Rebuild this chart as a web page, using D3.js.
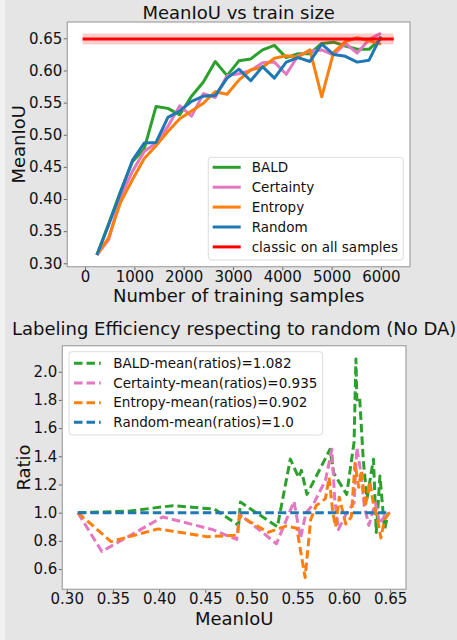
<!DOCTYPE html>
<html>
<head>
<meta charset="utf-8">
<script src="https://cdn.jsdelivr.net/npm/d3@7"></script>
<style>
  body { margin: 0; background: #e5e5e5; }
  svg { display: block; font-family: "DejaVu Sans", sans-serif; }
</style>
</head>
<body>
<div id="container"></div>
<script>
// --- data ---

// top chart: MeanIoU vs number of training samples
const trainSizes = [240, 480, 720, 960, 1200, 1440, 1680, 1920, 2160, 2400, 2640, 2880, 3120,
                    3360, 3600, 3840, 4080, 4320, 4560, 4800, 5040, 5280, 5520, 5760, 6000];
const iouBald = [0.313, 0.362, 0.412, 0.458, 0.478, 0.544, 0.541, 0.531, 0.560, 0.582, 0.614, 0.592, 0.615,
                 0.618, 0.632, 0.639, 0.620, 0.626, 0.626, 0.642, 0.644, 0.638, 0.633, 0.633, 0.649];
const iouCertainty = [0.313, 0.337, 0.403, 0.443, 0.474, 0.487, 0.513, 0.545, 0.529, 0.564, 0.558, 0.592, 0.595,
                      0.600, 0.612, 0.613, 0.594, 0.623, 0.630, 0.632, 0.624, 0.642, 0.627, 0.648, 0.658];
const iouEntropy = [0.313, 0.340, 0.395, 0.430, 0.463, 0.483, 0.505, 0.525, 0.537, 0.549, 0.567, 0.563, 0.585,
                    0.601, 0.605, 0.619, 0.623, 0.621, 0.632, 0.559, 0.628, 0.645, 0.651, 0.646, 0.641];
const iouRandom = [0.313, 0.360, 0.410, 0.460, 0.487, 0.488, 0.527, 0.537, 0.552, 0.560, 0.561, 0.588, 0.602,
                   0.584, 0.606, 0.588, 0.613, 0.620, 0.614, 0.641, 0.625, 0.622, 0.613, 0.616, 0.653];
const classicIoU = 0.649;
const classicStd = 0.0085;
const classicSpan = [-50, 6260];

const topLabels = ["BALD", "Certainty", "Entropy", "Random", "classic on all samples"];
const topXTicks = [0, 1000, 2000, 3000, 4000, 5000, 6000];
const topYTicks = [0.30, 0.35, 0.40, 0.45, 0.50, 0.55, 0.60, 0.65];

// bottom chart: labeling efficiency ratio vs MeanIoU
const effBaldX = [0.312, 0.365, 0.415, 0.460, 0.486, 0.488, 0.528, 0.542, 0.551, 0.554, 0.560, 0.578, 0.585,
                  0.589, 0.603, 0.611, 0.613, 0.614, 0.617, 0.621, 0.625, 0.632, 0.635, 0.639, 0.644, 0.648];
const effBaldY = [1.00, 1.01, 1.05, 1.025, 0.91, 1.075, 0.90, 1.38, 1.25, 1.30, 1.13, 1.36, 1.45,
                  1.28, 1.13, 1.50, 2.09, 1.80, 1.82, 1.37, 1.10, 1.38, 0.86, 1.26, 0.88, 1.00];
const effCertaintyX = [0.312, 0.338, 0.404, 0.458, 0.484, 0.487, 0.527, 0.546, 0.553, 0.559, 0.567, 0.580, 0.587,
                       0.590, 0.594, 0.603, 0.611, 0.614, 0.618, 0.622, 0.627, 0.634, 0.639, 0.644, 0.650];
const effCertaintyY = [1.00, 0.725, 0.97, 0.88, 0.81, 0.99, 0.78, 1.08, 0.82, 1.00, 1.06, 1.23, 1.45,
                       1.10, 0.88, 1.00, 1.07, 1.46, 1.30, 1.05, 0.91, 1.07, 0.92, 0.98, 1.00];
const effEntropyX = [0.312, 0.348, 0.399, 0.452, 0.485, 0.487, 0.518, 0.537, 0.549, 0.558, 0.564, 0.570, 0.580, 0.584,
                     0.588, 0.591, 0.595, 0.602, 0.608, 0.612, 0.616, 0.619, 0.623, 0.628, 0.632, 0.636, 0.640, 0.644, 0.649];
const effEntropyY = [1.00, 0.795, 0.885, 0.83, 0.84, 0.98, 0.86, 0.905, 0.89, 0.54, 0.95, 1.05, 1.10, 1.25,
                     1.00, 0.90, 1.11, 0.92, 0.97, 1.35, 1.18, 1.30, 1.04, 1.22, 1.06, 0.97, 0.82, 0.95, 1.00];
const effRandomX = [0.312, 0.650];
const effRandomY = [1.0, 1.0];

const bottomLabels = ["BALD-mean(ratios)=1.082", "Certainty-mean(ratios)=0.935",
                      "Entropy-mean(ratios)=0.902", "Random-mean(ratios)=1.0"];
const bottomXTicks = [0.30, 0.35, 0.40, 0.45, 0.50, 0.55, 0.60, 0.65];
const bottomYTicks = [0.6, 0.8, 1.0, 1.2, 1.4, 1.6, 1.8, 2.0];

const colors = ["#2ca02c", "#e377c2", "#ff7f0e", "#1f77b4", "#ff0000"];

// --- layout ---
const width = 457, height = 640;
const svg = d3.select("#container").append("svg")
    .attr("width", width)
    .attr("height", height);

svg.append("rect").attr("width", width).attr("height", height).attr("fill", "#e5e5e5");
svg.append("rect").attr("width", 5).attr("height", height).attr("fill", "#f2f2f2");

function drawFrame(box, x, y, xTicks, yTicks, xFmt, yFmt) {
    svg.append("rect")
        .attr("x", box.left).attr("y", box.top)
        .attr("width", box.right - box.left).attr("height", box.bottom - box.top)
        .attr("fill", "#fff");

    const gx = svg.append("g")
        .attr("transform", `translate(0,${box.bottom})`)
        .call(d3.axisBottom(x).tickValues(xTicks).tickFormat(xFmt).tickSize(3.5).tickPadding(0.8));
    const gy = svg.append("g")
        .attr("transform", `translate(${box.left},0)`)
        .call(d3.axisLeft(y).tickValues(yTicks).tickFormat(yFmt).tickSize(3.5).tickPadding(1.5));
    [gx, gy].forEach(g => {
        g.select(".domain").remove();
        g.selectAll(".tick line").attr("stroke", "#666");
        g.selectAll(".tick text")
            .attr("fill", "#111")
            .style("font-size", "15px")
            .style("font-family", "DejaVu Sans");
    });
}

function drawSpines(box) {
    svg.append("rect")
        .attr("x", box.left).attr("y", box.top)
        .attr("width", box.right - box.left).attr("height", box.bottom - box.top)
        .attr("fill", "none")
        .attr("stroke", "#a8a8a8")
        .attr("stroke-width", 1.3);
}

function drawLegend(lx, ly, lw, lh, firstY, step, handleX, textX, labels, dashed) {
    const g = svg.append("g");
    g.append("rect")
        .attr("x", lx).attr("y", ly).attr("width", lw).attr("height", lh)
        .attr("rx", 3)
        .attr("fill", "#fff").attr("fill-opacity", 0.85)
        .attr("stroke", "#dcdcdc");
    labels.forEach((lab, i) => {
        const yy = firstY + i * step;
        g.append("line")
            .attr("x1", handleX[0]).attr("x2", handleX[1])
            .attr("y1", yy).attr("y2", yy)
            .attr("stroke", colors[i])
            .attr("stroke-width", 3)
            .attr("stroke-dasharray", dashed ? "8.5,4" : null);
        g.append("text")
            .attr("x", textX).attr("y", yy + 4.8)
            .style("font-size", "13.5px")
            .attr("fill", "#111")
            .text(lab);
    });
}

// ---------- top chart ----------
const topBox = { left: 67.3, right: 410, top: 22, bottom: 266.7 };
const xTop = d3.scaleLinear().domain([-360, 6590]).range([topBox.left, topBox.right]);
const yTop = d3.scaleLinear().domain([0.2947, 0.6754]).range([topBox.bottom, topBox.top]);

drawFrame(topBox, xTop, yTop, topXTicks, topYTicks, d3.format("d"), d3.format(".2f"));

const topSeries = [iouBald, iouCertainty, iouEntropy, iouRandom];
const lineTop = d3.line().x(d => xTop(d[0])).y(d => yTop(d[1]));
topSeries.forEach((vals, i) => {
    svg.append("path")
        .datum(trainSizes.map((s, j) => [s, vals[j]]))
        .attr("d", lineTop)
        .attr("fill", "none")
        .attr("stroke", colors[i])
        .attr("stroke-width", 3)
        .attr("stroke-linejoin", "round");
});

// classic baseline with its band
svg.append("rect")
    .attr("x", xTop(classicSpan[0]))
    .attr("y", yTop(classicIoU + classicStd))
    .attr("width", xTop(classicSpan[1]) - xTop(classicSpan[0]))
    .attr("height", yTop(classicIoU - classicStd) - yTop(classicIoU + classicStd))
    .attr("fill", "#ff0000").attr("fill-opacity", 0.2);
svg.append("line")
    .attr("x1", xTop(classicSpan[0])).attr("x2", xTop(classicSpan[1]))
    .attr("y1", yTop(classicIoU)).attr("y2", yTop(classicIoU))
    .attr("stroke", colors[4]).attr("stroke-width", 3);

drawSpines(topBox);
drawLegend(208.3, 157.3, 195, 102.7, 167.3, 19.9, [212.7, 240.7], 251.7, topLabels, false);

svg.append("text")
    .attr("x", (topBox.left + topBox.right) / 2).attr("y", 19)
    .attr("text-anchor", "middle").style("font-size", "18px").attr("fill", "#111")
    .text("MeanIoU vs train size");
svg.append("text")
    .attr("x", (topBox.left + topBox.right) / 2).attr("y", 301.5)
    .attr("text-anchor", "middle").style("font-size", "18px").attr("fill", "#111")
    .text("Number of training samples");
svg.append("text")
    .attr("transform", `translate(25,${(topBox.top + topBox.bottom) / 2}) rotate(-90)`)
    .attr("text-anchor", "middle").style("font-size", "18px").attr("fill", "#111")
    .text("MeanIoU");

// ---------- bottom chart ----------
const botBox = { left: 62.3, right: 406, top: 345.7, bottom: 589.3 };
const xBot = d3.scaleLinear().domain([0.2952, 0.6672]).range([botBox.left, botBox.right]);
const yBot = d3.scaleLinear().domain([0.4567, 2.1844]).range([botBox.bottom, botBox.top]);

drawFrame(botBox, xBot, yBot, bottomXTicks, bottomYTicks, d3.format(".2f"), d3.format(".1f"));

const botSeries = [
    [effBaldX, effBaldY],
    [effCertaintyX, effCertaintyY],
    [effEntropyX, effEntropyY],
    [effRandomX, effRandomY]
];
const lineBot = d3.line().x(d => xBot(d[0])).y(d => yBot(d[1]));
botSeries.forEach(([xs, ys], i) => {
    svg.append("path")
        .datum(xs.map((v, j) => [v, ys[j]]))
        .attr("d", lineBot)
        .attr("fill", "none")
        .attr("stroke", colors[i])
        .attr("stroke-width", 3)
        .attr("stroke-dasharray", "8.5,4")
        .attr("stroke-linejoin", "round");
});

drawSpines(botBox);
drawLegend(69, 351.7, 253.7, 83.3, 363.3, 19.67, [74, 100.7], 113.3, bottomLabels, true);

svg.append("text")
    .attr("x", (botBox.left + botBox.right) / 2).attr("y", 335)
    .attr("text-anchor", "middle").style("font-size", "18px").attr("fill", "#111")
    .text("Labeling Efficiency respecting to random (No DA)");
svg.append("text")
    .attr("x", (botBox.left + botBox.right) / 2).attr("y", 625)
    .attr("text-anchor", "middle").style("font-size", "18px").attr("fill", "#111")
    .text("MeanIoU");
svg.append("text")
    .attr("transform", `translate(30,${(botBox.top + botBox.bottom) / 2}) rotate(-90)`)
    .attr("text-anchor", "middle").style("font-size", "18px").attr("fill", "#111")
    .text("Ratio");
</script>
</body>
</html>
